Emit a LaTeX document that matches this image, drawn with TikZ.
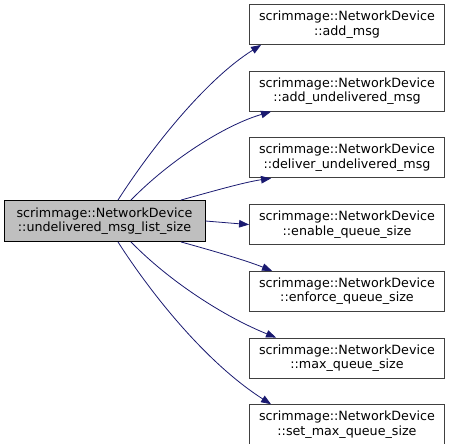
\documentclass[tikz,border=0pt]{standalone}
\usepackage{fontspec}
\setmainfont{DejaVu Sans}
\usepackage{tikz}
\usetikzlibrary{arrows.meta,calc,positioning}
\definecolor{callEdge}{HTML}{191970}
\definecolor{callBorder}{HTML}{404040}
\definecolor{callFocus}{HTML}{BFBFBF}

\begin{document}
\begin{tikzpicture}[
  x=1pt, y=1pt,
  font=\fontsize{12.7}{14.6}\selectfont,
  focus/.style={draw=black, fill=callFocus, line width=0.9pt, minimum width=201pt, minimum height=41pt, align=center, inner sep=0pt},
  callee/.style={draw=callBorder, fill=white, line width=0.9pt, minimum width=195pt, minimum height=40pt, align=center, inner sep=0pt},
  call/.style={-{Triangle[length=10pt, width=7.5pt]}, line width=0.8pt, draw=callEdge}
]
  \useasboundingbox (0,0) rectangle (453,-444);

  \node[focus] (size) at (104.5,-221) {scrimmage::NetworkDevice\\::undelivered\_msg\_list\_size};

  \node[callee] (add) at (347,-24.5) {scrimmage::NetworkDevice\\::add\_msg};
  \node[callee, below=25.8pt of add] (addund) {scrimmage::NetworkDevice\\::add\_undelivered\_msg};
  \node[callee, below=25.8pt of addund] (deliver) {scrimmage::NetworkDevice\\::deliver\_undelivered\_msg};
  \node[callee, below=25.8pt of deliver] (enable) {scrimmage::NetworkDevice\\::enable\_queue\_size};
  \node[callee, below=25.8pt of enable] (enforce) {scrimmage::NetworkDevice\\::enforce\_queue\_size};
  \node[callee, below=25.8pt of enforce] (maxq) {scrimmage::NetworkDevice\\::max\_queue\_size};
  \node[callee, below=25.8pt of maxq] (setmax) {scrimmage::NetworkDevice\\::set\_max\_queue\_size};

  % edges leave the top and bottom of the focus box
  \draw[call] ($(size.north)+(13.5,0)$) .. controls (150,-150) and (205,-80) .. ($(add.south west)+(12,0)$);
  \draw[call] ($(size.north)+(26.5,0)$) .. controls (170,-160) and (225,-125) .. ($(addund.south west)+(22,0)$);
  \draw[call] ($(size.north)+(76.5,0)$) .. controls (210,-192) and (245,-182) .. ($(deliver.south west)+(22,0)$);
  \draw[call] (size.east) -- (enable.west);
  \draw[call] ($(size.south)+(76.5,0)$) .. controls (210,-250) and (245,-260) .. ($(enforce.north west)+(23,0)$);
  \draw[call] ($(size.south)+(26.5,0)$) .. controls (170,-282) and (225,-317) .. ($(maxq.north west)+(27,0)$);
  \draw[call] ($(size.south)+(13.5,0)$) .. controls (150,-292) and (205,-362) .. ($(setmax.north west)+(22,0)$);
\end{tikzpicture}
\end{document}
